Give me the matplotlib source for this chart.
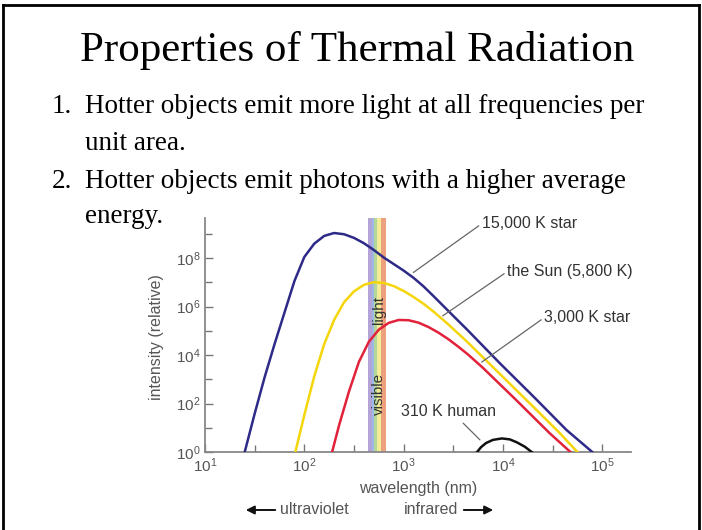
import numpy as np
import matplotlib
matplotlib.use("Agg")
import matplotlib.pyplot as plt
from matplotlib.lines import Line2D
from matplotlib.patches import FancyArrowPatch

plt.rcParams['font.family'] = ['Liberation Sans', 'DejaVu Sans']
plt.rcParams['mathtext.fontset'] = 'custom'
plt.rcParams['mathtext.rm'] = 'Liberation Sans'
plt.rcParams['mathtext.it'] = 'Liberation Sans'

# 数据 (从图上读的, 波长和强度都取 log10)
lgwl_15000 = [1.40, 1.50, 1.60, 1.70, 1.80, 1.90, 2.00, 2.10, 2.20, 2.30, 2.40, 2.50, 2.60, 2.70,
              2.80, 2.90, 3.00, 3.10, 3.20, 3.30, 3.40, 3.50, 3.64, 3.97, 4.31, 4.64, 4.90]
lgI_15000 = [0, 1.58, 3.08, 4.45, 5.75, 7.05, 8.05, 8.60, 8.92, 9.04, 8.99, 8.84, 8.62, 8.34,
             8.03, 7.76, 7.49, 7.19, 6.84, 6.44, 6.03, 5.62, 5.05, 3.66, 2.28, 0.91, 0]

lgwl_sun = [1.91, 2.00, 2.10, 2.20, 2.30, 2.40, 2.50, 2.60, 2.70, 2.80, 2.90, 3.00, 3.10, 3.20,
            3.30, 3.40, 3.50, 3.64, 3.97, 4.31, 4.58, 4.75]
lgI_sun = [0, 1.52, 3.12, 4.45, 5.45, 6.18, 6.63, 6.90, 7.01, 6.98, 6.85, 6.65, 6.40, 6.12,
           5.80, 5.45, 5.08, 4.55, 3.22, 1.85, 0.75, 0]

lgwl_3000 = [2.28, 2.35, 2.45, 2.55, 2.65, 2.75, 2.85, 2.95, 3.05, 3.15, 3.25, 3.35, 3.45, 3.55,
             3.65, 3.80, 4.14, 4.47, 4.68]
lgI_3000 = [0, 1.10, 2.50, 3.72, 4.55, 5.05, 5.33, 5.45, 5.44, 5.34, 5.16, 4.93, 4.66, 4.35,
            4.02, 3.47, 2.12, 0.78, 0]

lgwl_human = [3.74, 3.78, 3.83, 3.90, 3.99, 4.07, 4.14, 4.22, 4.29]
lgI_human = [0, 0.20, 0.37, 0.50, 0.56, 0.52, 0.40, 0.22, 0]

# 可见光色带 (nm)
band_edges = [442, 478, 503, 540, 588, 665]
band_colors = ['#b3a3d6', '#9db8e4', '#b2d69c', '#f3eb96', '#eda07e']

xticks = [1e1, 1e2, 1e3, 1e4, 1e5]
yticks = [1e0, 1e2, 1e4, 1e6, 1e8]

fig = plt.figure(figsize=(7.02, 5.30), dpi=100)

# 幻灯片边框
fig.add_artist(Line2D([3/702, 3/702], [0, 1-5/530], color='black', lw=2))
fig.add_artist(Line2D([3/702, 699/702], [1-5/530, 1-5/530], color='black', lw=2))
fig.add_artist(Line2D([699/702, 699/702], [0, 1-5/530], color='black', lw=2))

# 标题 和 列表
fig.text(357/702, 1-50/530, "Properties of Thermal Radiation", family='Liberation Serif',
         fontsize=31, ha='center', va='center')
lines = [(113, "1.", "Hotter objects emit more light at all frequencies per"),
         (150, "", "unit area."),
         (188, "2.", "Hotter objects emit photons with a higher average"),
         (223, "", "energy.")]
for yy, num, txt in lines:
    if num:
        fig.text(52/702, 1-yy/530, num, family='Liberation Serif', fontsize=19.5, va='baseline')
    fig.text(85/702, 1-yy/530, txt, family='Liberation Serif', fontsize=19.5, va='baseline')

ax = fig.add_axes([205/702, 78/530, 426/702, 234/530])
ax.set_xscale('log')
ax.set_yscale('log')
ax.set_xlim(10, 10**5.29)
ax.set_ylim(1, 10**9.66)

for i in range(len(band_colors)):
    ax.axvspan(band_edges[i], band_edges[i+1], color=band_colors[i], lw=0, zorder=1)

curves = [(lgwl_15000, lgI_15000, '#2e2a87'),
          (lgwl_sun, lgI_sun, '#f5d60a'),
          (lgwl_3000, lgI_3000, '#e2213a'),
          (lgwl_human, lgI_human, '#111111')]
for lx, ly, c in curves:
    ax.plot(10**np.array(lx), 10**np.array(ly), color=c, lw=1.8, zorder=3,
            solid_joinstyle='round')

ax.text(565, 10**5.87, "light", rotation=90, ha='center', va='center', fontsize=11, color='#333333', zorder=4)
ax.text(565, 10**2.40, "visible", rotation=90, ha='center', va='center', fontsize=11, color='#333333', zorder=4)

# 标注
gray = '#666666'
ann = [("15,000 K star", (10**3.098, 10**7.41), (10**3.785, 10**9.42)),
       ("the Sun (5,800 K)", (10**3.394, 10**5.62), (10**4.041, 10**7.44)),
       ("3,000 K star", (10**3.786, 10**3.71), (10**4.414, 10**5.54))]
for t, xy, xyt in ann:
    ax.annotate(t, xy=xy, xytext=xyt, fontsize=11.5, color='#333333', va='center', ha='left',
                arrowprops=dict(arrowstyle='-', color=gray, lw=0.9, shrinkA=0, shrinkB=0,
                                relpos=(0, 0.5)))
ax.annotate("", xy=(10**3.769, 10**0.50), xytext=(10**3.60, 10**1.19),
            arrowprops=dict(arrowstyle='-', color=gray, lw=0.9, shrinkA=0, shrinkB=0))
ax.text(10**3.457, 10**1.69, "310 K human", fontsize=11.5, color='#333333', ha='center', va='center')

for s in ['top', 'right']:
    ax.spines[s].set_visible(False)
for s in ['left', 'bottom']:
    ax.spines[s].set_color('#888888')
    ax.spines[s].set_linewidth(1.3)

ax.set_xticks(xticks)
ax.set_xticklabels(['$10^{%d}$' % int(np.log10(v)) for v in xticks])
ax.set_yticks(yticks)
ax.set_yticklabels(['$10^{%d}$' % int(np.log10(v)) for v in yticks])
ax.set_xticks([10**1.5, 10**2.5, 10**3.5, 10**4.5], minor=True)
ax.set_yticks([1e1, 1e3, 1e5, 1e7, 1e9], minor=True)
ax.xaxis.set_minor_formatter(plt.NullFormatter())
ax.yaxis.set_minor_formatter(plt.NullFormatter())
ax.tick_params(which='both', direction='in', color='#777777', labelcolor='#555555',
               labelsize=11, width=1)
ax.tick_params(which='major', length=6)
ax.tick_params(which='minor', length=5)

fig.text(157/702, 1-337/530, "intensity (relative)", rotation=90, ha='center', va='center',
         fontsize=11.5, color='#555555')
fig.text(418/702, 1-488/530, "wavelength (nm)", ha='center', va='center', fontsize=11.5, color='#555555')
fig.text(280/702, 1-510/530, "ultraviolet", ha='left', va='center', fontsize=11.5, color='#555555')
fig.text(458/702, 1-510/530, "infrared", ha='right', va='center', fontsize=11.5, color='#555555')
fig.add_artist(FancyArrowPatch((278/702, 1-510/530), (243/702, 1-510/530),
               transform=fig.transFigure, arrowstyle='-|>,head_length=5,head_width=2.5',
               color='#111111', lw=1.4))
fig.add_artist(FancyArrowPatch((461/702, 1-510/530), (496/702, 1-510/530),
               transform=fig.transFigure, arrowstyle='-|>,head_length=5,head_width=2.5',
               color='#111111', lw=1.4))

fig.savefig("out.png", dpi=100)
